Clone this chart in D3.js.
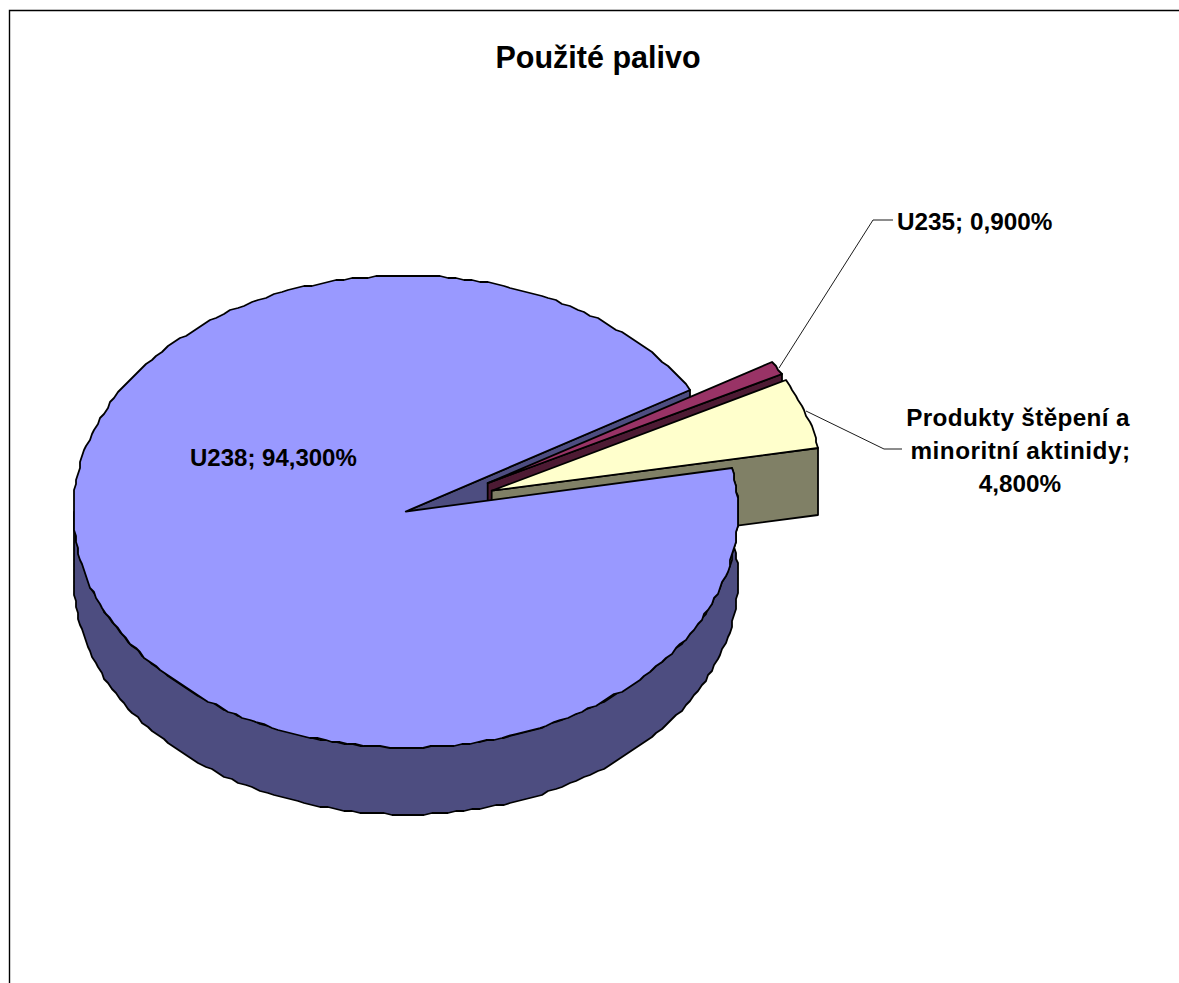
<!DOCTYPE html>
<html><head><meta charset="utf-8">
<script src="https://cdn.jsdelivr.net/npm/d3@7"></script>
<style>html,body{margin:0;padding:0;background:#fff;overflow:hidden}svg{display:block}
text{font-family:"Liberation Sans",Arial,sans-serif;font-weight:700;fill:#000}</style></head>
<body><svg id="c" width="1179" height="983"></svg>
<script>
// Data
const categories = ["U238", "U235", "Produkty štěpení a minoritní aktinidy"];
const shares = [94.3, 0.9, 4.8];
const valueLabels = ["94,300%", "0,900%", "4,800%"];
const chartTitle = "Použité palivo";
const topColors = ["#9999FF", "#993366", "#FFFFCC"];
const sideColors = ["#4D4D80", "#4D1A33", "#808066"];
// Explosion of each slice on the unit ellipse
const explodeX = [0, 0.2466, 0.2586];
const explodeY = [0, 0.120, 0.088];

const W = 1179, H = 983, depth = 67;
const svg = d3.select("#c");
const x = d3.scaleLinear().domain([-1, 1]).range([73.5, 738]);
const y = d3.scaleLinear().domain([-1, 1]).range([275.5, 747.5]);
const deg = Math.PI / 180;
const start = 79.5 * deg;
const pie = d3.pie().sort(null).startAngle(start).endAngle(start + 2 * Math.PI);
const arcs = pie(shares);
const line = d3.line().curve(d3.curveLinear);
const snap = v => Math.round(v / 2) * 2;

function pt(i, a, dz = 0) {
  return [snap(x(Math.sin(a) + explodeX[i])),
          snap(y(-Math.cos(a) - explodeY[i])) + dz];
}
function apex(i, dz = 0) {
  return [x(explodeX[i]), y(-explodeY[i]) + dz];
}
function arcPts(i, a0, a1, dz = 0) {
  const n = Math.max(2, Math.ceil(Math.abs(a1 - a0) / (1.4 * deg)));
  return d3.range(n + 1).map(k => pt(i, a0 + (a1 - a0) * k / n, dz));
}
function draw(g, pts, fill) {
  g.append("path").attr("d", line(pts) + "Z").attr("fill", fill)
    .attr("stroke", "#000").attr("stroke-width", 1.8).attr("stroke-linejoin", "round");
}
const g = svg.append("g");

// Chart frame, cropped by the picture on the right and at the bottom
g.append("path").attr("d", line([[9.5, H + 5], [9.5, 10.5], [W + 5, 10.5]]))
  .attr("fill", "none").attr("stroke", "#000").attr("stroke-width", 1.4);

// Far cut face of the main slice
const m = arcs[0];
draw(g, [apex(0), pt(0, m.endAngle), pt(0, m.endAngle, depth), apex(0, depth)], sideColors[0]);

// Exploded slices: near cut wall then top
[1, 2].forEach(i => {
  const a = arcs[i];
  draw(g, [apex(i), pt(i, a.endAngle), pt(i, a.endAngle, depth), apex(i, depth)], sideColors[i]);
  draw(g, [apex(i), ...arcPts(i, a.startAngle, a.endAngle)], topColors[i]);
});

// Main slice: outer wall then top
draw(g, [...arcPts(0, m.startAngle, 270 * deg), ...arcPts(0, 270 * deg, m.startAngle, depth)], sideColors[0]);
draw(g, [apex(0), ...arcPts(0, m.startAngle, m.endAngle)], topColors[0]);

// Leader lines
const leaderU235 = [[779, 368], [873, 220], [893, 220]];
const leaderProd = [[806, 411], [884, 449], [902, 449]];
[leaderU235, leaderProd].forEach(p => g.append("path").attr("d", line(p))
  .attr("fill", "none").attr("stroke", "#000").attr("stroke-width", 0.9));

// Text
const label = (t, px, py, size, anchor, ls = 0) => svg.append("text").attr("x", px).attr("y", py)
  .attr("font-size", size).attr("text-anchor", anchor).attr("letter-spacing", ls).text(t);
label(chartTitle, 598, 68, 30.5, "middle");
label(`${categories[0]}; ${valueLabels[0]}`, 190, 466, 24, "start");
label(`${categories[1]}; ${valueLabels[1]}`, 897, 230, 24.3, "start");
label("Produkty štěpení a", 1018, 426, 24.3, "middle", 0.35);
label("minoritní aktinidy;", 1020.5, 459, 24.3, "middle", 0.5);
label(valueLabels[2], 1020, 492, 24.3, "middle");
</script></body></html>
